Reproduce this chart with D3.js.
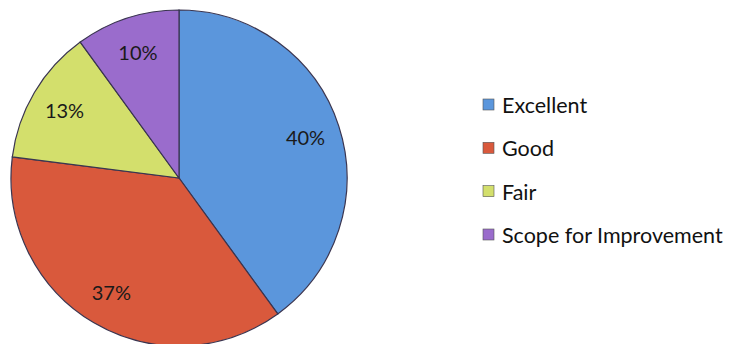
<!DOCTYPE html>
<html><head><meta charset="utf-8">
<script src="https://cdn.jsdelivr.net/npm/d3@7"></script>
<style>body{margin:0;background:#fff}svg{display:block}</style>
</head><body>
<svg id="c" width="732" height="344"></svg>
<script>
const categories = ["Excellent", "Good", "Fair", "Scope for Improvement"];
const values = [40, 37, 13, 10];
const labels = ["40%", "37%", "13%", "10%"];
const colors = ["#5b96dc", "#d9593c", "#d3df6c", "#9a6ccc"];

const svg = d3.select("#c");
const cx = 179, cy = 178, r = 168;
const pie = d3.pie().sort(null).value(d => d)(values);
const arc = d3.arc().innerRadius(0).outerRadius(r);
const labelArc = d3.arc().innerRadius(133).outerRadius(133);
const g = svg.append("g").attr("transform", `translate(${cx},${cy})`);
g.selectAll("path").data(pie).join("path")
  .attr("d", arc).attr("fill", (d,i) => colors[i])
  .attr("stroke", "#3a3550").attr("stroke-width", 1.2);
g.selectAll("text").data(pie).join("text")
  .attr("transform", d => `translate(${labelArc.centroid(d)})`)
  .attr("text-anchor", "middle").attr("dominant-baseline", "central")
  .attr("font-family", "Lato, 'Open Sans', sans-serif").attr("font-size", 20)
  .attr("fill", "#1a1a1a").text((d,i) => labels[i]);

const leg = svg.append("g");
const ly = d3.scalePoint().domain(categories).range([105, 235]);
categories.forEach((c,i) => {
  leg.append("rect").attr("x", 483).attr("y", ly(c) - 6).attr("width", 11).attr("height", 11)
    .attr("fill", colors[i]).attr("stroke", "#555").attr("stroke-width", 0.6);
  leg.append("text").attr("x", 502).attr("y", ly(c)).attr("dominant-baseline", "central")
    .attr("font-family", "Lato, 'Open Sans', sans-serif").attr("font-size", 21.5)
    .attr("fill", "#111").text(c);
});
</script>
</body></html>
